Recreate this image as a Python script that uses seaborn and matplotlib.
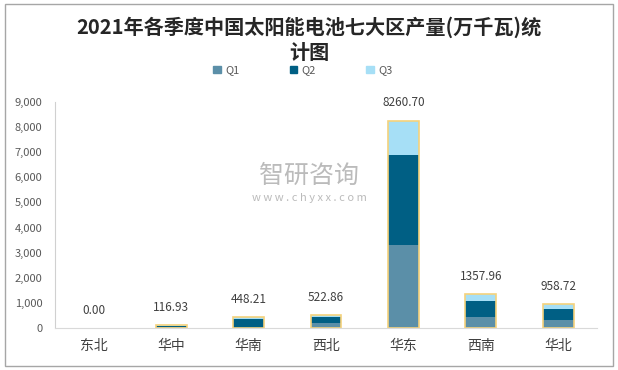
import matplotlib
matplotlib.use("Agg")
import matplotlib.pyplot as plt
from matplotlib.patches import Patch, Rectangle
import seaborn as sns

regions = ["东北", "华中", "华南", "西北", "华东", "西南", "华北"]
q1 = [0, 40, 20, 180, 3300, 430, 300]
q2 = [0, 50, 340, 260, 3580, 650, 440]
q3 = [0, 26.93, 88.21, 82.86, 1380.70, 277.96, 218.72]
totals = [0.00, 116.93, 448.21, 522.86, 8260.70, 1357.96, 958.72]
yticks = [0, 1000, 2000, 3000, 4000, 5000, 6000, 7000, 8000, 9000]

c_q1 = "#5b8fa8"
c_q2 = "#005f84"
c_q3 = "#a6dff6"
c_edge = "#f5d27c"

sns.set_style("white")
plt.rcParams["font.family"] = ["Noto Sans CJK SC", "DejaVu Sans"]

fig = plt.figure(figsize=(6.18, 3.70), dpi=100)
ax = fig.add_axes([0.089, 0.1135, 0.877, 0.611])

# stacked look: draw cumulative heights back to front
q12 = [a + b for a, b in zip(q1, q2)]
q123 = [a + b for a, b in zip(q12, q3)]
sns.barplot(x=regions, y=q123, color=c_q3, width=0.4, errorbar=None, ax=ax, saturation=1)
sns.barplot(x=regions, y=q12, color=c_q2, width=0.4, errorbar=None, ax=ax, saturation=1)
sns.barplot(x=regions, y=q1, color=c_q1, width=0.4, errorbar=None, ax=ax, saturation=1)
for p in ax.patches:
    p.set_linewidth(0)

# total outline with labels
bars = ax.bar(range(len(regions)), totals, width=0.4, facecolor="none",
              edgecolor=c_edge, linewidth=1.2)
for b, t in zip(bars, totals):
    if t == 0:
        b.set_edgecolor("none")
ax.bar_label(bars, labels=[f"{t:.2f}" for t in totals], padding=8,
             fontsize=8.5, color="#404040")

ax.set_xlim(-0.5, 6.5)
ax.set_ylim(0, 9000)
ax.set_yticks(yticks)
ax.set_yticklabels([f"{v:,}" for v in yticks])
ax.tick_params(axis="y", labelsize=8, colors="#595959", length=0, pad=9)
ax.tick_params(axis="x", labelsize=10, colors="#404040", length=0, pad=8)
ax.set_xlabel("")
ax.set_ylabel("")
for s in ["top", "right"]:
    ax.spines[s].set_visible(False)
ax.spines["left"].set_color("#d0d0d0")
ax.spines["bottom"].set_color("#d9d9d9")

fig.text(0.5, 0.893, "2021年各季度中国太阳能电池七大区产量(万千瓦)统\n计图",
         ha="center", va="center", fontsize=14.5, fontweight="bold",
         color="#262626", linespacing=1.2)

handles = [Patch(color=c_q1, label="Q1"), Patch(color=c_q2, label="Q2"),
           Patch(color=c_q3, label="Q3")]
fig.legend(handles=handles, loc="center", bbox_to_anchor=(0.49, 0.81), ncol=3,
           frameon=False, fontsize=8, handlelength=0.7, handleheight=0.7,
           columnspacing=4.5, handletextpad=0.4, labelcolor="#595959")

# watermark
fig.text(0.50, 0.525, "智研咨询", ha="center", va="center", fontsize=18,
         color="#aaaaaa", alpha=0.8)
fig.text(0.50, 0.465, "w w w . c h y x x . c o m", ha="center", va="center",
         fontsize=8, color="#aaaaaa", alpha=0.8)

fig.add_artist(Rectangle((0.008, 0.012), 0.984, 0.976, transform=fig.transFigure,
                         fill=False, edgecolor="#a6a6a6", linewidth=1))

fig.savefig("out.png", dpi=100)
